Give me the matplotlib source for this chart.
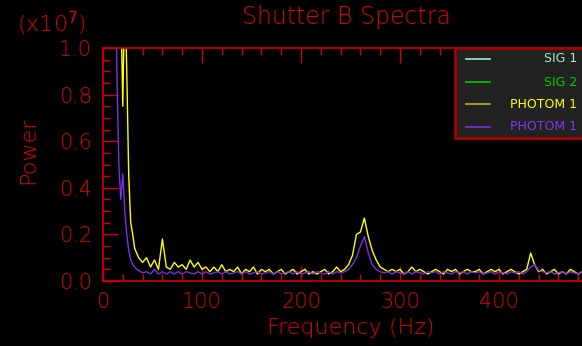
import numpy as np
import matplotlib
matplotlib.use('Agg')
import matplotlib.pyplot as plt
from matplotlib.ticker import MultipleLocator, FixedLocator
from matplotlib.patches import Rectangle
from matplotlib.lines import Line2D

# Данные (мощность в единицах 1e7)
freq_low = [12, 14, 16, 18, 20, 22, 24, 26, 28, 30, 32, 34, 36, 38, 40]
freq_high = list(range(44, 500, 4))
freq = np.array(freq_low + freq_high)

photom_yellow = [
    2.5, 2.0, 1.5, 1.2, 0.75, 1.3, 0.9, 0.45, 0.25, 0.20, 0.14, 0.12, 0.10, 0.09, 0.08,
    # 44 .. 96
    0.10, 0.06, 0.09, 0.05, 0.18, 0.06, 0.05, 0.08, 0.06, 0.07, 0.05, 0.09, 0.06, 0.08,
    # 100 .. 152
    0.05, 0.06, 0.04, 0.06, 0.04, 0.07, 0.04, 0.05, 0.04, 0.06, 0.03, 0.05, 0.04, 0.06,
    # 156 .. 208
    0.03, 0.05, 0.04, 0.05, 0.03, 0.04, 0.05, 0.03, 0.04, 0.05, 0.03, 0.04, 0.05, 0.03,
    # 212 .. 264
    0.04, 0.03, 0.04, 0.05, 0.03, 0.04, 0.06, 0.04, 0.05, 0.07, 0.11, 0.20, 0.21, 0.27,
    # 268 .. 320
    0.19, 0.13, 0.09, 0.06, 0.05, 0.04, 0.05, 0.04, 0.05, 0.03, 0.04, 0.06, 0.04, 0.05,
    # 324 .. 376
    0.04, 0.03, 0.04, 0.05, 0.04, 0.03, 0.05, 0.04, 0.05, 0.03, 0.04, 0.05, 0.04, 0.04,
    # 380 .. 432
    0.05, 0.03, 0.04, 0.05, 0.04, 0.05, 0.03, 0.04, 0.05, 0.04, 0.03, 0.04, 0.05, 0.12,
    # 436 .. 488
    0.07, 0.04, 0.05, 0.03, 0.04, 0.05, 0.03, 0.04, 0.03, 0.05, 0.04, 0.03, 0.04, 0.03,
    # 492, 496
    0.04, 0.03,
]

photom_purple = [
    2.0, 0.9, 0.5, 0.35, 0.46, 0.30, 0.20, 0.13, 0.09, 0.07, 0.06, 0.05, 0.045, 0.04, 0.035,
    # 44 .. 96
    0.04, 0.03, 0.05, 0.03, 0.04, 0.03, 0.04, 0.03, 0.04, 0.03, 0.04, 0.035, 0.03, 0.04,
    # 100 .. 152
    0.03, 0.04, 0.03, 0.035, 0.04, 0.03, 0.04, 0.03, 0.035, 0.04, 0.03, 0.04, 0.03, 0.035,
    # 156 .. 208
    0.04, 0.03, 0.035, 0.04, 0.03, 0.04, 0.03, 0.035, 0.04, 0.03, 0.04, 0.03, 0.035, 0.04,
    # 212 .. 264
    0.03, 0.04, 0.035, 0.03, 0.04, 0.03, 0.04, 0.035, 0.04, 0.05, 0.07, 0.10, 0.15, 0.19,
    # 268 .. 320
    0.12, 0.07, 0.05, 0.04, 0.035, 0.04, 0.03, 0.04, 0.035, 0.03, 0.04, 0.03, 0.04, 0.035,
    # 324 .. 376
    0.03, 0.04, 0.035, 0.04, 0.03, 0.04, 0.035, 0.03, 0.04, 0.035, 0.04, 0.03, 0.04, 0.035,
    # 380 .. 432
    0.04, 0.03, 0.035, 0.04, 0.03, 0.04, 0.035, 0.03, 0.04, 0.035, 0.04, 0.03, 0.04, 0.06,
    # 436 .. 488
    0.07, 0.045, 0.04, 0.035, 0.04, 0.03, 0.035, 0.04, 0.03, 0.04, 0.035, 0.03, 0.04, 0.035,
    # 492, 496
    0.03, 0.04,
]

# SIG 1 / SIG 2 на графике не видны — пустые серии, только в легенде
sig1 = []
sig2 = []

x_ticks = [0, 100, 200, 300, 400]
legend_labels = ['SIG 1', 'SIG 2', 'PHOTOM 1', 'PHOTOM 1']
legend_colors = ['#a8e8d8', '#00d000', '#ffff00', '#8038f0']
line_colors = ['#a8e8d8', '#00c800', '#b8b800', '#7a30e0']

RED = '#e00000'
W, H = 582, 346
FW = 'light'

fig = plt.figure(figsize=(W / 100, H / 100), dpi=100, facecolor='black')
ax = fig.add_axes([103 / W, (H - 281) / H, 495 / W, 233 / H], facecolor='black')

ax.plot(sig1, sig1, color=legend_colors[0])
ax.plot(sig2, sig2, color=legend_colors[1])
ax.plot(freq, photom_yellow, color='#ffff00', linewidth=1.0)
ax.plot(freq, photom_purple, color='#7a30e0', linewidth=1.0)

ax.set_xlim(0, 500)
ax.set_ylim(0, 1.0)
ax.xaxis.set_major_locator(FixedLocator(x_ticks))
ax.xaxis.set_minor_locator(MultipleLocator(20))
ax.yaxis.set_major_locator(MultipleLocator(0.2))
ax.yaxis.set_minor_locator(MultipleLocator(0.05))
ax.yaxis.set_major_formatter(plt.FuncFormatter(lambda v, p: f'{v:.1f}'))

ax.tick_params(which='both', direction='in', colors='#d00000', top=True, right=False,
               labelsize=15, labelcolor=RED, width=1)
ax.tick_params(which='major', length=11, pad=8)
ax.tick_params(which='minor', length=5)
for lab in ax.get_xticklabels() + ax.get_yticklabels():
    lab.set_fontweight(FW)
for s in ax.spines.values():
    s.set_color('#d00000')
    s.set_linewidth(1.2)

ax.set_xlabel('Frequency (Hz)', color=RED, fontsize=16, labelpad=4, fontweight=FW)
fig.text(28 / W, 1 - 150 / H, 'Power', color=RED, fontsize=16, rotation=90,
         ha='center', va='center', fontweight=FW)
fig.text(52 / W, 1 - 24 / H, '(x10$^7$)', color=RED, fontsize=16,
         ha='center', va='center', fontweight=FW)
fig.text(346 / W, 1 - 17 / H, 'Shutter B Spectra', color=RED, fontsize=17,
         ha='center', va='center', fontweight=FW)

# Легенда вручную: линии слева, подписи справа
fig.patches.append(Rectangle((455 / W, 1 - 138 / H), 140 / W, 90 / H,
                             transform=fig.transFigure, facecolor='#222222',
                             edgecolor='#aa0000', linewidth=2, zorder=5))
rows = [59, 82, 104, 127]
for y, lab, tc, lc in zip(rows, legend_labels, legend_colors, line_colors):
    fig.lines.append(Line2D([466 / W, 490 / W], [1 - y / H, 1 - y / H],
                            transform=fig.transFigure, color=lc, linewidth=1.2, zorder=6))
    fig.text(577 / W, 1 - y / H, lab, color=tc, fontsize=9, ha='right', va='center',
             zorder=7)

plt.savefig('out.png', dpi=100, facecolor='black')
